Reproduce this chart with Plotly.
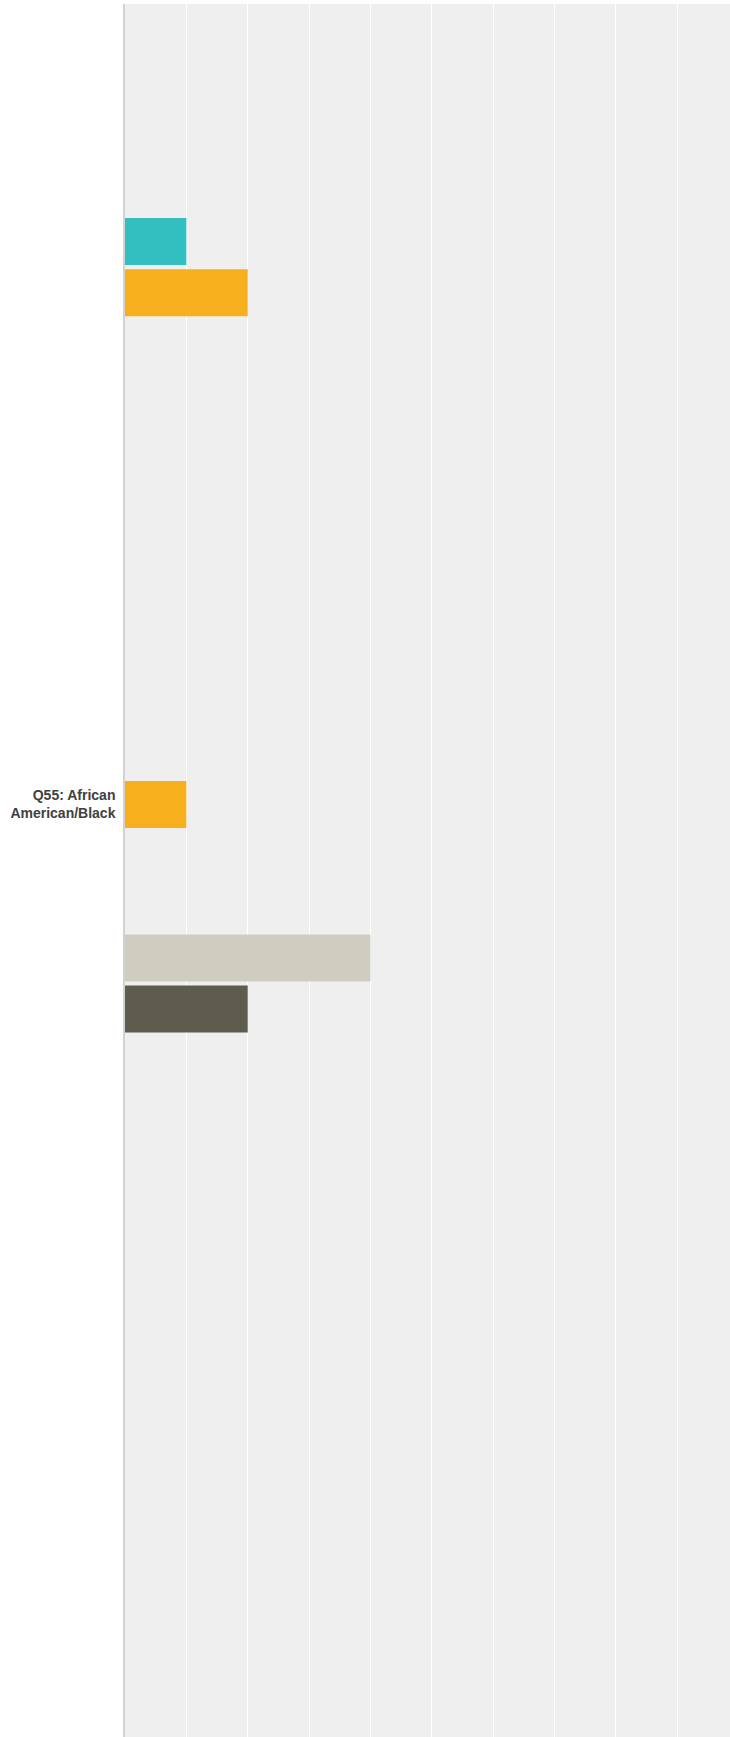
import plotly.graph_objects as go

category = ["Q55: African<br>American/Black"]

series_names = [f"Option {i+1}" for i in range(23)]
series_values = [1, 2, 0, 0, 0, 0, 0, 0, 0, 0, 0, 1, 0, 0, 4, 2, 0, 0, 0, 0, 0, 0, 0]
series_colors = ["#33BFC0", "#F7AF1E", "#8D6C8D", "#DD6D5B", "#8ABF5E",
                 "#4E8AB8", "#F05B6F", "#A3D4D5", "#7A6E9A", "#B9D06B",
                 "#E68A3C", "#F7AF1E", "#6BB6D6", "#C4A574", "#CFCDBF",
                 "#5D5C4D", "#9BBF85", "#D99AA5", "#7C9CBF", "#BFA65A",
                 "#6D8F8F", "#A07060", "#8899AA"]

fig = go.Figure()
for name, val, col in zip(series_names, series_values, series_colors):
    fig.add_trace(go.Bar(
        y=category, x=[val], name=name, orientation="h",
        marker=dict(color=col, line=dict(width=0)),
    ))

fig.update_layout(
    width=730, height=1737,
    margin=dict(l=125, r=0, t=4, b=0, pad=0),
    barmode="group", bargap=0, bargroupgap=0.0815,
    plot_bgcolor="#EFEFEF", paper_bgcolor="white",
    showlegend=False,
    font=dict(family="Liberation Sans, Arial, sans-serif", color="#404040"),
)
fig.update_xaxes(
    range=[0, 9.861], showgrid=True, gridcolor="white", gridwidth=1,
    zeroline=False, showticklabels=False, ticks="", showline=False,
    dtick=1,
)
fig.update_yaxes(
    range=[0.7924, -0.6801], showgrid=False, zeroline=False,
    showline=True, linecolor="#D2D2D2", linewidth=1.5,
    ticks="", tickfont=dict(size=14, color="#404040", family="Liberation Sans, Arial, sans-serif"),
    ticklabelstandoff=5,
    ticktext=["<b>Q55: African<br>American/Black</b>"], tickvals=category,
)

fig.write_html("out.html", config={"displayModeBar": False},
               post_script="document.body.style.margin='0';document.body.style.overflow='hidden';")
